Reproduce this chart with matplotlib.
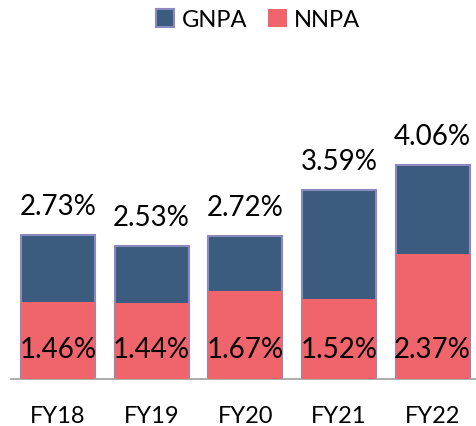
import matplotlib
matplotlib.use("Agg")
import matplotlib.pyplot as plt
from matplotlib.patches import Patch

years = ["FY18", "FY19", "FY20", "FY21", "FY22"]
gnpa = [2.73, 2.53, 2.72, 3.59, 4.06]
nnpa = [1.46, 1.44, 1.67, 1.52, 2.37]

GNPA_COLOR = "#3B5B7F"
GNPA_EDGE = "#8A8ABF"
NNPA_COLOR = "#F0646C"

plt.rcParams["font.family"] = ["Lato", "DejaVu Sans"]

fig = plt.figure(figsize=(4.77, 4.26), dpi=100)
ax = fig.add_axes([11 / 477, 0.111, 466 / 477, 0.741])

x = list(range(len(years)))
width = 0.79

ax.bar(x, gnpa, width=width, color=GNPA_COLOR, edgecolor=GNPA_EDGE, linewidth=1.5, zorder=2)
ax.bar(x, nnpa, width=width, color=NNPA_COLOR, edgecolor="none", zorder=3)

for xi, g, n in zip(x, gnpa, nnpa):
    ax.annotate(f"{g:.2f}%", (xi, g), xytext=(0, 14.4), textcoords="offset points",
                ha="center", va="baseline", fontsize=20, color="black", zorder=4)
    ax.annotate(f"{n:.2f}%", (xi, 0), xytext=(0, 14.9), textcoords="offset points",
                ha="center", va="baseline", fontsize=20, color="black", zorder=4)

ax.set_xlim(-0.502, 4.475)
ax.set_ylim(0, 6)
ax.set_xticks(x)
ax.set_xticklabels(years, fontsize=17)
ax.tick_params(axis="x", length=0, pad=19.5)
ax.set_yticks([])
for side in ("top", "right", "left"):
    ax.spines[side].set_visible(False)
ax.spines["bottom"].set_color("#A6A6A6")
ax.spines["bottom"].set_linewidth(1.3)

handles = [
    Patch(facecolor=GNPA_COLOR, edgecolor=GNPA_EDGE, linewidth=1.5, label="GNPA"),
    Patch(facecolor=NNPA_COLOR, edgecolor="none", label="NNPA"),
]
fig.legend(handles=handles, loc="center", bbox_to_anchor=(258 / 477, 0.953), ncol=2,
           frameon=False, fontsize=17, handlelength=0.8, handleheight=0.8,
           handletextpad=0.3, columnspacing=0.9)

fig.savefig("out.png", dpi=100)
